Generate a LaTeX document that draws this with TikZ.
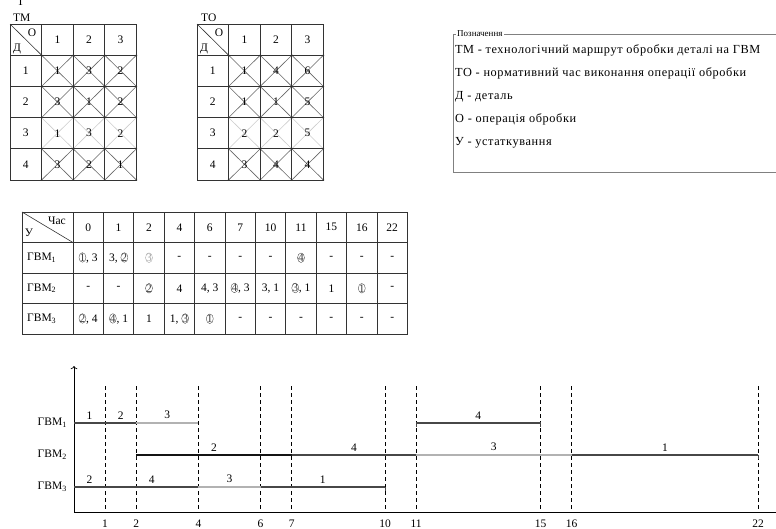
\documentclass[tikz,border=0pt]{standalone}
\usepackage{fontspec}
\setmainfont{Liberation Serif}
\newfontfamily\legfont[LetterSpace=5]{Liberation Serif}
\usetikzlibrary{shapes.geometric, arrows.meta}

\newcommand{\kr}[2][black!75]{\tikz[baseline=(kn.base)]\node[draw=#1, text=#1, ellipse, inner sep=-0.4pt, line width=0.35pt] (kn) {#2};}

\begin{document}
\begin{tikzpicture}[x=1pt, y=-1pt,
  txt/.style={font=\fontsize{11.5}{13}\selectfont, inner sep=0pt},
  tab/.style={black!80, line width=0.8pt},
  xdk/.style={black!60, line width=0.6pt},
  xlt/.style={black!20, line width=0.6pt},
  dsh/.style={dash pattern=on 4pt off 3pt, line width=0.8pt},
  seg/.style={line width=2pt},
  dk/.style={black!72}, bk/.style={black!92}, lt/.style={black!30}]
  \useasboundingbox (0,0) rectangle (776,528);

  % таблиця ТМ
  \node[txt, anchor=base west] (tcut) at (17,5) {Т};
  \node[txt, anchor=base west] (tm) at (13,21) {ТМ};
  \begin{scope}[shift={(10,24)}]
    \foreach \rw/\st in {1/xdk,2/xdk,3/xlt,4/xdk}
      \foreach \cl in {1,2,3}
        \draw[\st] (31.6*\cl,31.2*\rw) -- ++(31.6,31.2) ++(-31.6,0) -- ++(31.6,-31.2);
    \foreach \rw in {1,...,5}
      \foreach \cl in {1,...,4}
        \fill[black!70] (31.6*\cl,31.2*\rw) circle (0.9);
    \draw[tab] (0,0) rectangle (126.4,156);
    \foreach \cl in {1,2,3} \draw[tab] (31.6*\cl,0) -- ++(0,156);
    \foreach \rw in {1,...,4} \draw[tab] (0,31.2*\rw) -- ++(126.4,0);
    \draw[tab, line width=0.6pt] (0,0) -- (31.6,31.2);
    \node[txt] (tmo) at (22,9) {О};
    \node[txt] (tmd) at (7,25) {Д};
    \foreach \cl in {1,2,3} \node[txt] (tmh\cl) at (31.6*\cl+15.8,15.6) {\cl};
    \foreach \rw/\va/\vb/\vc in {1/1/3/2,2/3/1/2,3/1/3/2,4/3/2/1} {
      \node[txt] (tmr\rw) at (15.8,31.2*\rw+15.6) {\rw};
      \node[txt] (tm\rw a) at (47.4,31.2*\rw+15.6) {\va};
      \node[txt] (tm\rw b) at (79,31.2*\rw+15.6) {\vb};
      \node[txt] (tm\rw c) at (110.6,31.2*\rw+15.6) {\vc};
    }
  \end{scope}

  % таблиця ТО
  \node[txt, anchor=base west] (to) at (201,21) {ТО};
  \begin{scope}[shift={(197,24)}]
    \foreach \rw/\st in {1/xdk,2/xdk,3/xlt,4/xdk}
      \foreach \cl in {1,2,3}
        \draw[\st] (31.6*\cl,31.2*\rw) -- ++(31.6,31.2) ++(-31.6,0) -- ++(31.6,-31.2);
    \foreach \rw in {1,...,5}
      \foreach \cl in {1,...,4}
        \fill[black!70] (31.6*\cl,31.2*\rw) circle (0.9);
    \draw[tab] (0,0) rectangle (126.4,156);
    \foreach \cl in {1,2,3} \draw[tab] (31.6*\cl,0) -- ++(0,156);
    \foreach \rw in {1,...,4} \draw[tab] (0,31.2*\rw) -- ++(126.4,0);
    \draw[tab, line width=0.6pt] (0,0) -- (31.6,31.2);
    \node[txt] (too) at (22,9) {О};
    \node[txt] (tod) at (7,25) {Д};
    \foreach \cl in {1,2,3} \node[txt] (toh\cl) at (31.6*\cl+15.8,15.6) {\cl};
    \foreach \rw/\va/\vb/\vc in {1/1/4/6,2/1/1/5,3/2/2/5,4/3/4/4} {
      \node[txt] (tor\rw) at (15.8,31.2*\rw+15.6) {\rw};
      \node[txt] (to\rw a) at (47.4,31.2*\rw+15.6) {\va};
      \node[txt] (to\rw b) at (79,31.2*\rw+15.6) {\vb};
      \node[txt] (to\rw c) at (110.6,31.2*\rw+15.6) {\vc};
    }
  \end{scope}

  % позначення
  \draw[black!50, line width=0.8pt] (453,34) rectangle (780,172);
  \node[font=\fontsize{9}{10}\selectfont, fill=white, inner sep=1pt, anchor=west] (pozn) at (456,34) {Позначення};
  \foreach \t [count=\k from 0] in {ТМ - технологічний маршрут обробки деталі на ГВМ,
      ТО - нормативний час виконання операції обробки, Д - деталь,
      О - операція обробки, У - устаткування}
    \node[txt, font=\legfont\fontsize{12.3}{14}\selectfont, anchor=west] (lg\k) at (455,50+23.3*\k) {\t};

  % таблиця завантаження
  \begin{scope}[shift={(22,212)}]
    \draw[tab] (0,0) rectangle (385.4,122);
    \foreach \k in {0,...,10} \draw[tab] (51+30.4*\k,0) -- ++(0,122);
    \foreach \rw in {1,2,3} \draw[tab] (0,30.5*\rw) -- ++(385.4,0);
    \draw[tab, line width=0.6pt] (0,0) -- (51,30.5);
    \node[txt] (chas) at (35,9) {Час};
    \node[txt] (ust) at (7,21) {У};
    \foreach \t [count=\k from 0] in {0,1,2,4,6,7,10,11,15,16,22}
      \node[txt] (hd\k) at (66.2+30.4*\k,15.25) {\t};
    \foreach \rw in {1,2,3}
      \node[txt, anchor=west] (gv\rw) at (5,30.5*\rw+15.25) {ГВМ\textsubscript{\rw}};
    \foreach \v [count=\k from 0] in {{\kr{1}, 3},{3, \kr{2}},\kr[black!35]{3},-,-,-,-,\kr{4},-,-,-}
      \node[txt] (ra\k) at (66.2+30.4*\k,45.75) {\v};
    \foreach \v [count=\k from 0] in {-,-,\kr{2},4,{4, 3},{\kr{4}, 3},{3, 1},{\kr{3}, 1},1,\kr{1},-}
      \node[txt] (rb\k) at (66.2+30.4*\k,76.25) {\v};
    \foreach \v [count=\k from 0] in {{\kr{2}, 4},{\kr{4}, 1},1,{1, \kr{3}},\kr{1},-,-,-,-,-,-}
      \node[txt] (rc\k) at (66.2+30.4*\k,106.75) {\v};
  \end{scope}

  % діаграма
  \node[txt, anchor=east] (g1) at (67,423) {ГВМ\textsubscript{1}};
  \node[txt, anchor=east] (g2) at (67,455) {ГВМ\textsubscript{2}};
  \node[txt, anchor=east] (g3) at (67,487) {ГВМ\textsubscript{3}};
  \begin{scope}[shift={(74,0)}, x=31.1pt]
    \draw[->, line width=0.7pt] (0,512) -- (0,366);
    \draw[line width=0.7pt] (0,512) -- (23,512);
    \foreach \t in {1,2,4,6,7,10,11,15,16,22} {
      \draw[dsh] (\t,386) -- (\t,511);
      \node[txt, anchor=base] (tk\t) at (\t,527) {\t};
    }
    \foreach \y/\a/\b/\lb/\st in {423/0/1/1/dk, 423/1/2/2/dk, 423/2/4/3/lt, 423/11/15/4/dk,
        455/2/7/2/bk, 455/7/11/4/dk, 455/11/16/3/lt, 455/16/22/1/dk,
        487/0/1/2/dk, 487/1/4/4/dk, 487/4/6/3/lt, 487/6/10/1/dk}
      \draw[seg,\st] (\a,\y) -- (\b,\y) node[txt, text=black, midway, above=3pt] (s\y-\a) {\lb};
    \draw[dk, line width=0.8pt] (11,423) -- ++(0,4) (15,423) -- ++(0,4);
    \draw[bk, line width=0.8pt] (2,455) -- ++(0,4);
    \draw[dk, line width=0.8pt] (22,455) -- ++(0,4) (10,487) -- ++(0,4);
  \end{scope}
\end{tikzpicture}
\end{document}
